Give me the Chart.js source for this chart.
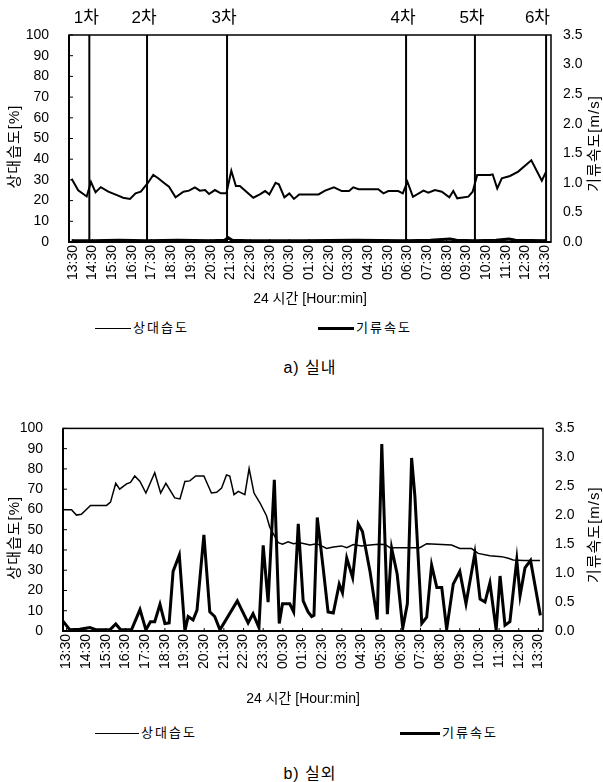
<!DOCTYPE html>
<html lang="ko">
<head>
<meta charset="utf-8">
<script src="https://cdn.jsdelivr.net/npm/chart.js@4.4.1/dist/chart.umd.min.js"></script>
<style>
  body { margin: 0; background: #fff; color: #000; font-family: 'Liberation Sans', 'Noto Sans CJK KR', sans-serif; }
  #page { position: relative; width: 603px; height: 782px; overflow: hidden; }
  canvas { position: absolute; left: 0; }
  .legend { position: absolute; left: 0; width: 603px; height: 16px; font-size: 13px; line-height: 16px; letter-spacing: 2px; }
  .legend .item { position: absolute; top: 0; white-space: nowrap; }
  .legend .ln { display: inline-block; vertical-align: middle; width: 36px; margin-right: 2px; border-top: 1.5px solid #000; }
  .legend .ln.thick { border-top-width: 3px; }
  .caption { position: absolute; left: 0; width: 620px; text-align: center; font-size: 16px; letter-spacing: 1px; }
</style>
</head>
<body>
<div id="page">
  <canvas id="indoor" width="603" height="312" style="top:0"></canvas>
  <div class="legend" style="top:320px">
    <span class="item" style="left:95px"><span class="ln"></span>상대습도</span>
    <span class="item" style="left:318px"><span class="ln thick"></span>기류속도</span>
  </div>
  <div class="caption" style="top:354px">a) 실내</div>

  <canvas id="outdoor" width="603" height="312" style="top:400px"></canvas>
  <div class="legend" style="top:725px">
    <span class="item" style="left:95px"><span class="ln" style="width:44px"></span>상대습도</span>
    <span class="item" style="left:400px"><span class="ln thick" style="width:40px"></span>기류속도</span>
  </div>
  <div class="caption" style="top:760px">b) 실외</div>
</div>
<script>
// x values are minutes after 13:30
const hourTicks = ['13:30', '14:30', '15:30', '16:30', '17:30', '18:30', '19:30', '20:30', '21:30',
  '22:30', '23:30', '00:30', '01:30', '02:30', '03:30', '04:30', '05:30', '06:30', '07:30', '08:30',
  '09:30', '10:30', '11:30', '12:30', '13:30']
const eventLabels = ['1차', '2차', '3차', '4차', '5차', '6차']
const eventTimes = [50, 226, 470, 1016, 1226, 1443]

// a) 실내
const inRhTime = [-4, 16, 42, 55, 69, 85, 108, 138, 153, 174, 191, 207, 228, 245, 260, 279, 293, 313, 337, 354,
  372, 387, 403, 415, 433, 451, 468, 483, 497, 509, 550, 570, 586, 599, 618, 628, 645, 660, 674, 690,
  749, 769, 796, 820, 842, 855, 871, 931, 947, 962, 992, 1006, 1020, 1037, 1069, 1084, 1104, 1125, 1148, 1160,
  1172, 1206, 1219, 1233, 1272, 1280, 1294, 1308, 1333, 1358, 1398, 1430, 1443]
const inRh = [30.5, 25, 22, 29, 24, 26.5, 24.3, 22.4, 21.4, 20.8, 23.5, 24.3, 28.4, 32.4, 30.8, 28.4, 26.7, 21.6, 24.3, 24.8,
  26.4, 24.8, 25.1, 23.2, 25.1, 23.5, 23.5, 34.4, 27, 27, 21.4, 23, 24.6, 23, 28.6, 27.9, 21.6, 23.5, 20.8, 23,
  23, 24.8, 26.4, 24.6, 24.6, 26.4, 25.5, 25.5, 23.5, 24.6, 24.6, 23.5, 29.1, 21.8, 24.8, 23.8, 25.1, 24.3, 21.6, 24.6,
  21.1, 21.9, 24.3, 32.4, 32.4, 32.7, 25.9, 30.8, 31.9, 34, 39.5, 29.6, 34]
const inVelTime = [-4, 60, 140, 226, 320, 420, 462, 474, 486, 540, 700, 860, 1016, 1090, 1150, 1170, 1226, 1290, 1330, 1350, 1443]
const inVel = [0.02, 0.02, 0.03, 0.02, 0.03, 0.02, 0.03, 0.07, 0.03, 0.02, 0.02, 0.03, 0.02, 0.03, 0.05, 0.03, 0.02, 0.03, 0.05, 0.03, 0.02]

// b) 실외
const outRhTime = [-11, 15, 30, 45, 73, 122, 134, 150, 162, 183, 195, 208, 224, 242, 269, 287, 303, 330, 346, 361,
  376, 394, 419, 442, 458, 473, 488, 498, 511, 524, 544, 557, 572, 590, 610, 620, 646, 659, 676, 692,
  712, 743, 763, 794, 814, 839, 855, 875, 900, 926, 951, 972, 987, 1078, 1099, 1130, 1175, 1200, 1236, 1256,
  1292, 1328, 1348, 1363, 1394, 1445]
const outRh = [59.8, 59.8, 57.2, 57.6, 62, 62, 63.6, 72.9, 70, 72.6, 73.3, 76.5, 73.8, 68.1, 78.1, 68.1, 72.9, 65.7, 65.2, 73.8,
  74.1, 76.5, 76.5, 68.1, 68.5, 70.5, 77, 76.5, 67.3, 68.9, 67.3, 80.2, 68.1, 63.3, 56.9, 51.2, 43.6, 42.8, 44, 43.1,
  43.6, 42.5, 43.1, 40.7, 41.5, 42, 41.1, 42.7, 42, 42.4, 42.8, 42.7, 41.1, 41.1, 43.1, 42.8, 42.4, 40.7, 40.7, 38.3,
  37.2, 36.7, 35.9, 35.1, 34.8, 34.8]
const outVelTime = [-11, 10, 40, 71, 91, 132, 150, 165, 198, 224, 242, 256, 269, 285, 300, 313, 325, 344, 361, 371,
  386, 398, 419, 437, 452, 468, 521, 554, 569, 587, 600, 615, 634, 649, 659, 681, 693, 707, 722, 737,
  748, 755, 765, 783, 798, 814, 832, 842, 855, 873, 890, 903, 926, 948, 962, 979, 992, 1009, 1026, 1040,
  1053, 1063, 1084, 1099, 1114, 1130, 1145, 1160, 1180, 1200, 1219, 1246, 1262, 1277, 1292, 1311, 1323, 1338, 1353, 1374,
  1384, 1399, 1416, 1446]
const outVel = [0.17, 0.02, 0.03, 0.06, 0.02, 0.02, 0.12, 0.02, 0.02, 0.37, 0.02, 0.16, 0.16, 0.46, 0.13, 0.14, 1.03, 1.31, 0.0, 0.25,
  0.19, 0.36, 1.66, 0.33, 0.25, 0.02, 0.52, 0.14, 0.3, 0.06, 1.48, 0.5, 2.61, 0.13, 0.47, 0.47, 0.33, 1.85, 0.52, 0.33,
  0.25, 0.27, 1.96, 1.09, 0.33, 0.31, 0.81, 0.66, 1.26, 0.92, 1.85, 1.72, 1.03, 0.2, 3.23, 0.29, 1.43, 0.98, 0.05, 0.47,
  2.99, 2.33, 0.13, 0.24, 1.14, 0.75, 0.75, 0.03, 0.81, 1.03, 0.47, 1.34, 0.55, 0.5, 0.83, 0.02, 0.95, 0.1, 0.16, 1.23,
  0.61, 1.09, 1.22, 0.27]

const FONT = "'Liberation Sans', 'Noto Sans CJK KR', sans-serif"
Chart.defaults.font.family = FONT
Chart.defaults.color = '#000'

const pairs = (xs, ys) => xs.map((x, i) => ({ x: x, y: ys[i] }))

// frame, inner tick marks, event lines and the rotated axis titles
const framePlugin = {
  id: 'frame',
  beforeDatasetsDraw(chart, args, opts) {
    const { ctx, chartArea: a, scales } = chart
    ctx.save()
    ctx.strokeStyle = '#000'
    ctx.lineWidth = 1.5
    ctx.strokeRect(a.left, a.top, a.right - a.left, a.bottom - a.top)
    ctx.lineWidth = 2
    ctx.beginPath()
    ctx.moveTo(a.left, a.top)
    ctx.lineTo(a.left, a.bottom)
    ctx.lineTo(a.right, a.bottom)
    ctx.stroke()

    ctx.lineWidth = 1
    ctx.beginPath()
    scales.y.ticks.forEach((t) => {
      const py = scales.y.getPixelForValue(t.value)
      ctx.moveTo(a.left, py)
      ctx.lineTo(a.left + 4, py)
    })
    scales.x.ticks.forEach((t) => {
      const px = scales.x.getPixelForValue(t.value)
      ctx.moveTo(px, a.bottom)
      ctx.lineTo(px, a.bottom - 3)
    })
    ctx.stroke()

    const times = opts.times || []
    ctx.lineWidth = 2
    ctx.font = '17px ' + FONT
    ctx.textAlign = 'center'
    ctx.textBaseline = 'middle'
    ctx.fillStyle = '#000'
    times.forEach((t, i) => {
      const px = scales.x.getPixelForValue(t)
      ctx.beginPath()
      ctx.moveTo(px, a.top)
      ctx.lineTo(px, a.bottom)
      ctx.stroke()
      const w = ctx.measureText(opts.labels[i]).width
      const cx = Math.min(px - 3, a.right - w / 2 - 1)
      ctx.fillText(opts.labels[i], cx, a.top - 17)
    })
    ctx.restore()
  },
  afterDraw(chart, args, opts) {
    const { ctx, chartArea: a } = chart
    const midY = (a.top + a.bottom) / 2
    ctx.save()
    ctx.fillStyle = '#000'
    ctx.font = '15px ' + FONT
    ctx.letterSpacing = '1px'
    ctx.textAlign = 'center'
    ctx.textBaseline = 'middle'
    ctx.translate(15, midY + 8)
    ctx.rotate(-Math.PI / 2)
    ctx.fillText(opts.leftTitle, 0, 0)
    ctx.restore()
    ctx.save()
    ctx.fillStyle = '#000'
    ctx.font = '15px ' + FONT
    ctx.letterSpacing = '1px'
    ctx.textAlign = 'center'
    ctx.textBaseline = 'middle'
    ctx.translate(chart.width - 8, midY + 5)
    ctx.rotate(-Math.PI / 2)
    ctx.fillText(opts.rightTitle, 0, 0)
    ctx.restore()
  },
}

function makeChart(id, cfg) {
  return new Chart(document.getElementById(id), {
    type: 'line',
    data: {
      datasets: [
        {
          label: '상대습도',
          data: pairs(cfg.rhTime, cfg.rh),
          yAxisID: 'y',
          borderColor: '#000',
          borderWidth: cfg.rhWidth,
          pointRadius: 0,
          tension: 0,
        },
        {
          label: '기류속도',
          data: pairs(cfg.velTime, cfg.vel),
          yAxisID: 'y1',
          borderColor: '#000',
          borderWidth: 3,
          pointRadius: 0,
          tension: 0,
        },
      ],
    },
    options: {
      responsive: false,
      animation: false,
      events: [],
      layout: { padding: { top: cfg.padTop, left: 0, right: 0, bottom: 0 } },
      plugins: {
        legend: { display: false },
        tooltip: { enabled: false },
        frame: {
          times: cfg.events,
          labels: eventLabels,
          leftTitle: '상대습도[%]',
          rightTitle: '기류속도[m/s]',
        },
      },
      scales: {
        x: {
          type: 'linear',
          min: cfg.xMin,
          max: cfg.xMax,
          afterBuildTicks: (scale) => {
            scale.ticks = hourTicks.map((_, i) => ({ value: i * 60 }))
          },
          afterFit: (scale) => {
            scale.height = cfg.xHeight
          },
          grid: { display: false, drawTicks: false },
          border: { display: false },
          ticks: {
            autoSkip: false,
            minRotation: 90,
            maxRotation: 90,
            padding: 3,
            font: { size: 14 },
            callback: (value, index) => hourTicks[index],
          },
          title: {
            display: true,
            text: '24 시간 [Hour:min]',
            font: { size: 14 },
            padding: { top: 0, bottom: 4 },
          },
        },
        y: {
          position: 'left',
          min: 0,
          max: 100,
          afterFit: (scale) => {
            scale.width = cfg.leftWidth
          },
          grid: { display: false, drawTicks: false },
          border: { display: false },
          ticks: { stepSize: 10, padding: 20, font: { size: 14 } },
        },
        y1: {
          position: 'right',
          min: 0,
          max: 3.5,
          afterFit: (scale) => {
            scale.width = cfg.rightWidth
          },
          grid: { display: false, drawTicks: false },
          border: { display: false },
          ticks: {
            stepSize: 0.5,
            padding: 12,
            font: { size: 14 },
            callback: (value) => value.toFixed(1),
          },
        },
      },
    },
    plugins: [framePlugin],
  })
}

makeChart('indoor', {
  rhTime: inRhTime, rh: inRh, velTime: inVelTime, vel: inVel,
  rhWidth: 2, events: eventTimes,
  xMin: -12, xMax: 1458, padTop: 35, xHeight: 70, leftWidth: 69, rightWidth: 52,
})

makeChart('outdoor', {
  rhTime: outRhTime, rh: outRh, velTime: outVelTime, vel: outVel,
  rhWidth: 1.5, events: [],
  xMin: -11, xMax: 1454, padTop: 24, xHeight: 81, leftWidth: 63, rightWidth: 60,
})
</script>
</body>
</html>
